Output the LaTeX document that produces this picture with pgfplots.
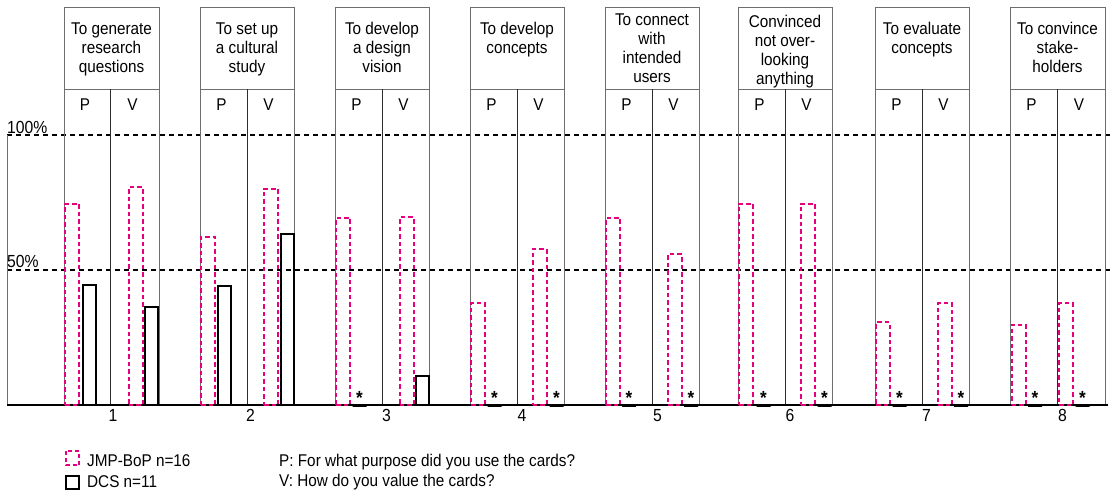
\documentclass[border=0pt]{standalone}
\usepackage{fontspec}
\setmainfont{Liberation Sans}[FakeStretch=0.9]
\usepackage{pgfplots}
\pgfplotsset{compat=1.18}
\definecolor{jmp}{RGB}{230,0,126}
\definecolor{colgray}{RGB}{110,110,110}
\definecolor{midgray}{RGB}{45,45,45}
\newcommand\hdfont{\fontsize{17}{19}\selectfont}
\newcommand\lgfont{\fontsize{17}{21}\selectfont}
\begin{document}
\begin{tikzpicture}
\begin{axis}[
  name=ax,
  width=1115pt, height=405pt, scale only axis,
  xmin=0, xmax=1115, ymin=0, ymax=150,
  clip=false,
  axis line style={draw=none},
  ytick=\empty,
  xtick={113,250.5,386.5,522,657.5,790,926.5,1062.5},
  xticklabels={1,2,3,4,5,6,7,8},
  xtick style={draw=none},
  major tick length=0pt,
  xticklabel style={font=\fontsize{17.5}{19}\selectfont, anchor=north, inner sep=0pt, yshift=-4pt},
]
% reference lines
\draw[black, line width=1.1pt, dash pattern=on 5pt off 4pt] (axis cs:7,100) -- (axis cs:1112,100);
\draw[black, line width=1.1pt, dash pattern=on 5pt off 4pt] (axis cs:7,50) -- (axis cs:1112,50);
\draw[colgray, line width=1pt] (axis cs:7,0) -- (axis cs:7,100);
\node[anchor=base west, font=\fontsize{17.5}{19}\selectfont, inner sep=0pt] at (axis cs:7,100.7) {100\%};
\node[anchor=base west, font=\fontsize{17.5}{19}\selectfont, inner sep=0pt] at (axis cs:7,51) {50\%};
% group frames
\draw[colgray, line width=1pt] (axis cs:64,0) -- (axis cs:64,147.4) -- (axis cs:159,147.4) -- (axis cs:159,0);
\draw[colgray, line width=1pt] (axis cs:64,117) -- (axis cs:159,117);
\draw[midgray, line width=0.9pt] (axis cs:110,0) -- (axis cs:110,117);
\draw[colgray, line width=1pt] (axis cs:200,0) -- (axis cs:200,147.4) -- (axis cs:294,147.4) -- (axis cs:294,0);
\draw[colgray, line width=1pt] (axis cs:200,117) -- (axis cs:294,117);
\draw[midgray, line width=0.9pt] (axis cs:247,0) -- (axis cs:247,117);
\draw[colgray, line width=1pt] (axis cs:335,0) -- (axis cs:335,147.4) -- (axis cs:429,147.4) -- (axis cs:429,0);
\draw[colgray, line width=1pt] (axis cs:335,117) -- (axis cs:429,117);
\draw[midgray, line width=0.9pt] (axis cs:382,0) -- (axis cs:382,117);
\draw[colgray, line width=1pt] (axis cs:470,0) -- (axis cs:470,147.4) -- (axis cs:564,147.4) -- (axis cs:564,0);
\draw[colgray, line width=1pt] (axis cs:470,117) -- (axis cs:564,117);
\draw[midgray, line width=0.9pt] (axis cs:517,0) -- (axis cs:517,117);
\draw[colgray, line width=1pt] (axis cs:605,0) -- (axis cs:605,147.4) -- (axis cs:699,147.4) -- (axis cs:699,0);
\draw[colgray, line width=1pt] (axis cs:605,117) -- (axis cs:699,117);
\draw[midgray, line width=0.9pt] (axis cs:652,0) -- (axis cs:652,117);
\draw[colgray, line width=1pt] (axis cs:738,0) -- (axis cs:738,147.4) -- (axis cs:832,147.4) -- (axis cs:832,0);
\draw[colgray, line width=1pt] (axis cs:738,117) -- (axis cs:832,117);
\draw[midgray, line width=0.9pt] (axis cs:785,0) -- (axis cs:785,117);
\draw[colgray, line width=1pt] (axis cs:875,0) -- (axis cs:875,147.4) -- (axis cs:969,147.4) -- (axis cs:969,0);
\draw[colgray, line width=1pt] (axis cs:875,117) -- (axis cs:969,117);
\draw[midgray, line width=0.9pt] (axis cs:922,0) -- (axis cs:922,117);
\draw[colgray, line width=1pt] (axis cs:1010,0) -- (axis cs:1010,147.4) -- (axis cs:1105,147.4) -- (axis cs:1105,0);
\draw[colgray, line width=1pt] (axis cs:1010,117) -- (axis cs:1105,117);
\draw[midgray, line width=0.9pt] (axis cs:1057,0) -- (axis cs:1057,117);
% baseline
\draw[black, line width=1.3pt] (axis cs:7,0) -- (axis cs:1108,0);
% headers
\node[anchor=north, align=center, font=\hdfont, inner sep=0pt] at (axis cs:111.5,141.7) {To generate\\research\\questions};
\node[anchor=north, align=center, font=\hdfont, inner sep=0pt] at (axis cs:247,141.7) {To set up\\a cultural\\study};
\node[anchor=north, align=center, font=\hdfont, inner sep=0pt] at (axis cs:382,141.7) {To develop\\a design\\vision};
\node[anchor=north, align=center, font=\hdfont, inner sep=0pt] at (axis cs:517,141.7) {To develop\\concepts};
\node[anchor=north, align=center, font=\hdfont, inner sep=0pt] at (axis cs:652,144.8) {To connect\\with\\intended\\users};
\node[anchor=north, align=center, font=\hdfont, inner sep=0pt] at (axis cs:785,144.4) {Convinced\\not over-\\looking\\anything};
\node[anchor=north, align=center, font=\hdfont, inner sep=0pt] at (axis cs:922,141.7) {To evaluate\\concepts};
\node[anchor=north, align=center, font=\hdfont, inner sep=0pt] at (axis cs:1057.5,141.7) {To convince\\stake-\\holders};
% P / V labels
\node[anchor=north, font=\hdfont, inner sep=0pt] at (axis cs:85,113.6) {P};
\node[anchor=north, font=\hdfont, inner sep=0pt] at (axis cs:132.5,113.6) {V};
\node[anchor=north, font=\hdfont, inner sep=0pt] at (axis cs:221.5,113.6) {P};
\node[anchor=north, font=\hdfont, inner sep=0pt] at (axis cs:268.5,113.6) {V};
\node[anchor=north, font=\hdfont, inner sep=0pt] at (axis cs:356.5,113.6) {P};
\node[anchor=north, font=\hdfont, inner sep=0pt] at (axis cs:403.5,113.6) {V};
\node[anchor=north, font=\hdfont, inner sep=0pt] at (axis cs:491.5,113.6) {P};
\node[anchor=north, font=\hdfont, inner sep=0pt] at (axis cs:538.5,113.6) {V};
\node[anchor=north, font=\hdfont, inner sep=0pt] at (axis cs:626.5,113.6) {P};
\node[anchor=north, font=\hdfont, inner sep=0pt] at (axis cs:673.5,113.6) {V};
\node[anchor=north, font=\hdfont, inner sep=0pt] at (axis cs:759.5,113.6) {P};
\node[anchor=north, font=\hdfont, inner sep=0pt] at (axis cs:806.5,113.6) {V};
\node[anchor=north, font=\hdfont, inner sep=0pt] at (axis cs:896.5,113.6) {P};
\node[anchor=north, font=\hdfont, inner sep=0pt] at (axis cs:943.5,113.6) {V};
\node[anchor=north, font=\hdfont, inner sep=0pt] at (axis cs:1031.5,113.6) {P};
\node[anchor=north, font=\hdfont, inner sep=0pt] at (axis cs:1079,113.6) {V};
% JMP-BoP bars (P and V)
\addplot[ybar, bar shift=0pt, bar width=14, draw=jmp, line width=2pt,
  dash pattern=on 4.5pt off 3pt, fill=none]
  coordinates {
  (72,74.5) (135.5,80.6)
  (208,62.3) (271,80.1)
  (343,69.3) (406.5,69.5)
  (478,37.8) (539.5,57.7)
  (613,69.3) (675,55.9)
  (746,74.6) (808,74.6)
  (883,30.6) (945,37.8)
  (1018.5,29.8) (1066,37.8)
  };
% DCS bars (non-zero)
\addplot[ybar, bar shift=0pt, bar width=13, draw=black, line width=2pt, fill=none]
  coordinates {
  (89,44.4) (151,36.2)
  (224,44.1) (287.5,63.2)
  (422.5,10.6)
  };
% DCS bars at zero, marked *
\addplot[ybar, bar shift=0pt, bar width=14, draw=black, line width=3pt, fill=none,
  nodes near coords={*},
  every node near coord/.append style={anchor=base, yshift=0.8pt, inner sep=0pt, font=\fontsize{19}{19}\selectfont\bfseries, text=black}]
  coordinates {
  (359.5,0)
  (494.5,0) (556.5,0)
  (629,0) (691,0)
  (763.5,0) (824.5,0)
  (899.5,0) (961,0)
  (1035,0) (1082.5,0)
  };
% legend key
\draw[jmp, line width=2pt, dash pattern=on 4pt off 3pt] (axis cs:66,-16.96) rectangle (axis cs:79,-22.33);
\draw[black, line width=2pt] (axis cs:66,-26.2) rectangle (axis cs:79,-31.2);
\node[anchor=base west, font=\lgfont, inner sep=0pt] at (axis cs:87,-22.6) {JMP-BoP n=16};
\node[anchor=base west, font=\lgfont, inner sep=0pt] at (axis cs:87,-30.5) {DCS n=11};
% question key
\node[anchor=base west, font=\lgfont, inner sep=0pt] at (axis cs:279,-22.6) {P: For what purpose did you use the cards?};
\node[anchor=base west, font=\lgfont, inner sep=0pt] at (axis cs:279,-30.0) {V: How do you value the cards?};
\end{axis}
\pgfresetboundingbox
\path[use as bounding box] (ax.south west) ++(0pt,-90pt) rectangle (ax.north east);
\end{tikzpicture}
\end{document}
